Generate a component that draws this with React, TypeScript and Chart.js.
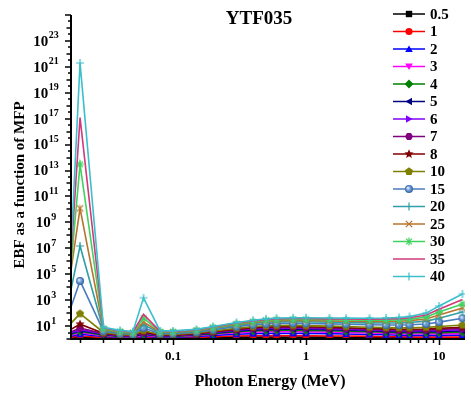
import React, { useEffect, useRef } from 'react';
import { Chart, registerables } from 'chart.js';

Chart.register(...registerables);

// ---------- data ----------
const energies = [0.015, 0.02, 0.03, 0.04, 0.05, 0.06, 0.08, 0.1, 0.15, 0.2, 0.3, 0.4, 0.5, 0.6, 0.8, 1, 1.5, 2, 3, 4, 5, 6, 8, 10, 15];
const mfpLabels = ['0.5', '1', '2', '3', '4', '5', '6', '7', '8', '10', '15', '20', '25', '30', '35', '40'];

const ebf0_5 = [1.1, 1.3, 1.2, 1.1, 1.1, 1.2, 1.1, 1.1, 1.2, 1.3, 1.4, 1.4, 1.4, 1.4, 1.4, 1.4, 1.4, 1.3, 1.3, 1.3, 1.3, 1.2, 1.2, 1.2, 1.2];
const ebf1 = [1.2, 1.7, 1.3, 1.2, 1.2, 1.4, 1.2, 1.2, 1.3, 1.5, 1.7, 1.8, 1.8, 1.8, 1.8, 1.8, 1.7, 1.7, 1.6, 1.5, 1.5, 1.4, 1.4, 1.4, 1.4];
const ebf2 = [1.3, 2.3, 1.6, 1.4, 1.3, 1.7, 1.3, 1.4, 1.6, 1.9, 2.3, 2.6, 2.7, 2.7, 2.7, 2.7, 2.6, 2.4, 2.2, 2.1, 2.0, 1.9, 1.9, 1.9, 2.0];
const ebf3 = [1.4, 3.0, 1.8, 1.5, 1.4, 2.0, 1.5, 1.5, 1.8, 2.3, 3.0, 3.4, 3.6, 3.7, 3.7, 3.6, 3.4, 3.2, 2.9, 2.7, 2.5, 2.4, 2.4, 2.5, 2.6];
const ebf4 = [1.5, 3.8, 2.0, 1.6, 1.5, 2.3, 1.6, 1.6, 2.0, 2.6, 3.6, 4.3, 4.6, 4.7, 4.7, 4.6, 4.3, 4.0, 3.6, 3.3, 3.1, 3.0, 3.0, 3.1, 3.3];
const ebf5 = [1.6, 4.6, 2.2, 1.7, 1.6, 2.6, 1.7, 1.7, 2.2, 2.9, 4.2, 5.1, 5.5, 5.7, 5.8, 5.6, 5.2, 4.8, 4.3, 3.9, 3.7, 3.6, 3.6, 3.8, 4.2];
const ebf6 = [1.8, 5.5, 2.4, 1.8, 1.7, 2.9, 1.8, 1.8, 2.3, 3.2, 4.8, 5.9, 6.5, 6.8, 6.8, 6.6, 6.1, 5.6, 5.0, 4.6, 4.3, 4.2, 4.3, 4.6, 5.2];
const ebf7 = [2.0, 7.0, 2.6, 1.9, 1.8, 3.2, 1.9, 1.9, 2.5, 3.5, 5.3, 6.7, 7.5, 7.8, 7.9, 7.6, 7.0, 6.4, 5.7, 5.3, 5.0, 4.9, 5.0, 5.5, 6.5];
const ebf8 = [2.5, 14, 2.8, 2.0, 1.9, 3.6, 2.0, 2.0, 2.6, 3.7, 5.8, 7.5, 8.5, 8.9, 9.0, 8.7, 8.0, 7.3, 6.5, 6.0, 5.7, 5.7, 5.9, 6.6, 8.0];
const ebf10 = [4.0, 90, 3.2, 2.2, 2.0, 4.5, 2.2, 2.2, 2.9, 4.2, 6.8, 9.0, 10.4, 11, 11.2, 10.8, 9.9, 9.1, 8.1, 7.6, 7.3, 7.4, 7.9, 9.2, 12];
const ebf15 = [6.0, 3.0e4, 4.0, 2.6, 2.3, 7.0, 2.6, 2.6, 3.4, 5.2, 9.0, 12.5, 14.8, 16, 16.5, 16, 14.8, 13.7, 12.5, 12, 12, 12.5, 14.5, 20, 40];
const ebf20 = [10, 1.5e7, 4.8, 3.0, 2.6, 12, 3.0, 3.0, 3.9, 6.2, 11, 16, 19.5, 21, 22, 21.5, 20, 18.5, 17.5, 17, 17.5, 19, 24, 40, 120];
const ebf25 = [20, 1.2e10, 5.6, 3.4, 2.9, 20, 3.3, 3.3, 4.3, 7.0, 13, 19, 24, 26, 27.5, 27, 25, 23.5, 22.5, 22.5, 23.5, 26, 35, 70, 250];
const ebf30 = [0.15, 3.0e13, 6.4, 3.8, 3.2, 40, 3.6, 3.6, 4.7, 7.8, 15, 22, 28, 31, 33, 32.5, 30.5, 29, 28, 28.5, 30, 34, 50, 120, 500];
const ebf35 = [0.003, 1.2e17, 7.2, 4.2, 3.5, 80, 3.9, 3.9, 5.1, 8.5, 17, 25, 32, 36, 38.5, 38, 36, 34.5, 34, 35, 37.5, 44, 70, 200, 1100];
const ebf40 = [1e-5, 2.0e21, 8.0, 4.6, 3.8, 1500, 4.2, 4.2, 5.5, 9.3, 19, 28, 36, 41, 44, 44, 42, 40.5, 40, 42, 46, 55, 100, 350, 3000];

const seriesValues = [ebf0_5, ebf1, ebf2, ebf3, ebf4, ebf5, ebf6, ebf7, ebf8, ebf10, ebf15, ebf20, ebf25, ebf30, ebf35, ebf40];

const xTickValues = [0.1, 1, 10];
const xTickLabels = ['0.1', '1', '10'];
const yLabelExponents = ['1', '3', '5', '7', '9', '11', '13', '15', '17', '19', '21', '23'];

const titleText = 'YTF035';
const xTitle = 'Photon Energy (MeV)';
const yTitle = 'EBF as a function of MFP';

// ---------- styles ----------
const colors = ['#000000', '#ff0000', '#0000ff', '#ff00ff', '#008000', '#000080', '#8000ff', '#800080', '#800000', '#808000', '#4a7cc0', '#2f9ea6', '#b8732e', '#3fd25f', '#d03a7c', '#3cbfcc'];
const markerKinds = ['square', 'circle', 'triUp', 'triDown', 'diamond', 'triLeft', 'triRight', 'hexagon', 'star', 'pentagon', 'ball', 'plus', 'x', 'asterisk', 'none', 'plus'];

const SERIF = '"Liberation Serif", "Times New Roman", serif';

function polyPath(g: CanvasRenderingContext2D, cx: number, cy: number, r: number, n: number, start: number) {
  g.beginPath();
  for (let i = 0; i < n; i++) {
    const a = start + (i * 2 * Math.PI) / n;
    const px = cx + r * Math.cos(a);
    const py = cy + r * Math.sin(a);
    if (i === 0) g.moveTo(px, py);
    else g.lineTo(px, py);
  }
  g.closePath();
}

function drawMarker(g: CanvasRenderingContext2D, kind: string, cx: number, cy: number, color: string) {
  g.save();
  g.fillStyle = color;
  g.strokeStyle = color;
  g.lineWidth = 1.2;
  const r = 4;
  switch (kind) {
    case 'square':
      g.fillRect(cx - 3.2, cy - 3.2, 6.4, 6.4);
      break;
    case 'circle':
      g.beginPath();
      g.arc(cx, cy, 3.6, 0, Math.PI * 2);
      g.fill();
      break;
    case 'triUp':
      polyPath(g, cx, cy + 0.8, r + 0.4, 3, -Math.PI / 2);
      g.fill();
      break;
    case 'triDown':
      polyPath(g, cx, cy - 0.8, r + 0.4, 3, Math.PI / 2);
      g.fill();
      break;
    case 'triLeft':
      polyPath(g, cx + 0.8, cy, r + 0.4, 3, Math.PI);
      g.fill();
      break;
    case 'triRight':
      polyPath(g, cx - 0.8, cy, r + 0.4, 3, 0);
      g.fill();
      break;
    case 'diamond':
      polyPath(g, cx, cy, r + 0.4, 4, -Math.PI / 2);
      g.fill();
      break;
    case 'hexagon':
      polyPath(g, cx, cy, r, 6, 0);
      g.fill();
      break;
    case 'pentagon':
      polyPath(g, cx, cy, r + 0.3, 5, -Math.PI / 2);
      g.fill();
      break;
    case 'star': {
      g.beginPath();
      for (let i = 0; i < 10; i++) {
        const a = -Math.PI / 2 + (i * Math.PI) / 5;
        const rr = i % 2 === 0 ? r + 0.8 : (r + 0.8) * 0.45;
        const px = cx + rr * Math.cos(a);
        const py = cy + rr * Math.sin(a);
        if (i === 0) g.moveTo(px, py);
        else g.lineTo(px, py);
      }
      g.closePath();
      g.fill();
      break;
    }
    case 'ball': {
      const grad = g.createRadialGradient(cx - 1.2, cy - 1.2, 0.3, cx, cy, 4);
      grad.addColorStop(0, '#e8f0fb');
      grad.addColorStop(0.5, '#6f9ad6');
      grad.addColorStop(1, '#2f5f9f');
      g.fillStyle = grad;
      g.beginPath();
      g.arc(cx, cy, 4, 0, Math.PI * 2);
      g.fill();
      break;
    }
    case 'plus':
      g.beginPath();
      g.moveTo(cx, cy - r);
      g.lineTo(cx, cy + r);
      g.moveTo(cx - r, cy);
      g.lineTo(cx + r, cy);
      g.stroke();
      break;
    case 'x':
      g.beginPath();
      g.moveTo(cx - 3.2, cy - 3.2);
      g.lineTo(cx + 3.2, cy + 3.2);
      g.moveTo(cx - 3.2, cy + 3.2);
      g.lineTo(cx + 3.2, cy - 3.2);
      g.stroke();
      break;
    case 'asterisk':
      g.beginPath();
      g.moveTo(cx, cy - r);
      g.lineTo(cx, cy + r);
      g.moveTo(cx - r, cy);
      g.lineTo(cx + r, cy);
      g.moveTo(cx - 2.9, cy - 2.9);
      g.lineTo(cx + 2.9, cy + 2.9);
      g.moveTo(cx - 2.9, cy + 2.9);
      g.lineTo(cx + 2.9, cy - 2.9);
      g.stroke();
      break;
    default:
      break;
  }
  g.restore();
}

function markerCanvas(kind: string, color: string): HTMLCanvasElement {
  const c = document.createElement('canvas');
  c.width = 12;
  c.height = 12;
  const g = c.getContext('2d');
  if (g) drawMarker(g, kind, 6, 6, color);
  return c;
}

const annotationPlugin = {
  id: 'ebfDecor',
  afterDraw(chart: any) {
    const ctx: CanvasRenderingContext2D = chart.ctx;
    const area = chart.chartArea;
    const xs = chart.scales.x;
    const ys = chart.scales.y;
    ctx.save();
    ctx.strokeStyle = '#000';
    ctx.fillStyle = '#000';

    // axis lines
    ctx.lineWidth = 2;
    ctx.beginPath();
    ctx.moveTo(area.left, area.top);
    ctx.lineTo(area.left, area.bottom + 1);
    ctx.moveTo(area.left - 1, area.bottom);
    ctx.lineTo(area.right, area.bottom);
    ctx.stroke();

    // y ticks (decades and half decades)
    ctx.lineWidth = 1.5;
    for (let h = 0; h <= 50; h++) {
      const y = Math.round(ys.getPixelForValue(Math.pow(10, h / 2)));
      let len = 3;
      if (h % 2 === 0) len = (h / 2) % 2 === 1 ? 6 : 4.5;
      ctx.beginPath();
      ctx.moveTo(area.left - len, y);
      ctx.lineTo(area.left, y);
      ctx.stroke();
    }
    // x ticks
    for (let e = -2; e <= 1; e++) {
      for (let m = 1; m <= 9; m++) {
        const v = m * Math.pow(10, e);
        if (v < xs.min || v > xs.max) continue;
        const x = Math.round(xs.getPixelForValue(v)) + 0.5;
        const major = m === 1;
        ctx.beginPath();
        ctx.moveTo(x, area.bottom);
        ctx.lineTo(x, area.bottom + (major ? 6 : 4));
        ctx.stroke();
      }
    }

    // x tick labels
    ctx.font = `bold 13px ${SERIF}`;
    ctx.textAlign = 'center';
    ctx.textBaseline = 'middle';
    xTickValues.forEach((v, i) => {
      ctx.fillText(xTickLabels[i], xs.getPixelForValue(v), area.bottom + 18);
    });

    // y tick labels: 10 with superscript exponent
    yLabelExponents.forEach((exp) => {
      const y = ys.getPixelForValue(Math.pow(10, Number(exp)));
      ctx.font = `bold 15px ${SERIF}`;
      const wBase = ctx.measureText('10').width;
      ctx.font = `bold 10px ${SERIF}`;
      const wExp = ctx.measureText(exp).width;
      const total = wBase + wExp + 0.5;
      const x0 = 46 - total / 2;
      ctx.textAlign = 'left';
      ctx.textBaseline = 'middle';
      ctx.font = `bold 15px ${SERIF}`;
      ctx.fillText('10', x0, y + 1);
      ctx.font = `bold 10px ${SERIF}`;
      ctx.fillText(exp, x0 + wBase + 0.5, y - 5);
    });

    // title
    ctx.font = `bold 19px ${SERIF}`;
    ctx.textAlign = 'center';
    ctx.textBaseline = 'middle';
    ctx.fillText(titleText, 259, 19);

    // x axis title
    ctx.font = `bold 16px ${SERIF}`;
    ctx.fillText(xTitle, 270, 382);

    // y axis title
    ctx.save();
    ctx.translate(20, 185);
    ctx.rotate(-Math.PI / 2);
    ctx.font = `bold 15px ${SERIF}`;
    ctx.fillText(yTitle, 0, 0);
    ctx.restore();

    // legend
    mfpLabels.forEach((lab, i) => {
      const y = 14 + i * 17.5;
      ctx.strokeStyle = colors[i];
      ctx.lineWidth = 1.5;
      ctx.beginPath();
      ctx.moveTo(393, y);
      ctx.lineTo(425, y);
      ctx.stroke();
      drawMarker(ctx, markerKinds[i], 409, y, colors[i]);
      ctx.fillStyle = '#000';
      ctx.font = `bold 15px ${SERIF}`;
      ctx.textAlign = 'left';
      ctx.textBaseline = 'middle';
      ctx.fillText(lab, 430, y + 1);
    });

    ctx.restore();
  },
};

export default function App() {
  const canvasRef = useRef<HTMLCanvasElement | null>(null);

  useEffect(() => {
    document.body.style.margin = '0';
    const canvas = canvasRef.current;
    if (!canvas) return;

    const datasets = seriesValues.map((vals, i) => ({
      label: mfpLabels[i],
      data: energies.map((e, j) => ({ x: e, y: vals[j] })),
      borderColor: colors[i],
      backgroundColor: colors[i],
      borderWidth: 1.6,
      pointStyle: markerCanvas(markerKinds[i], colors[i]) as any,
      pointRadius: markerKinds[i] === 'none' ? 0 : 4,
      tension: 0,
      clip: 0,
      order: -i,
    }));

    const chart = new Chart(canvas, {
      type: 'line',
      data: { datasets },
      options: {
        animation: false,
        responsive: false,
        devicePixelRatio: 1,
        layout: { padding: { left: 8, right: 6, top: 15, bottom: 0 } },
        plugins: { legend: { display: false }, tooltip: { enabled: false }, title: { display: false } },
        scales: {
          x: {
            type: 'logarithmic',
            min: 0.0171,
            max: 15.67,
            bounds: 'data',
            ticks: { display: false },
            grid: { display: false },
            border: { display: false },
            afterFit: (s: any) => {
              s.height = 55;
            },
          },
          y: {
            type: 'logarithmic',
            min: 1,
            max: 1e25,
            bounds: 'data',
            ticks: { display: false },
            grid: { display: false },
            border: { display: false },
            afterFit: (s: any) => {
              s.width = 63;
            },
          },
        },
      } as any,
      plugins: [annotationPlugin],
    });

    return () => {
      chart.destroy();
    };
  }, []);

  return (
    <div style={{ width: 471, height: 394, background: '#fff' }}>
      <canvas ref={canvasRef} width={471} height={394} />
    </div>
  );
}
